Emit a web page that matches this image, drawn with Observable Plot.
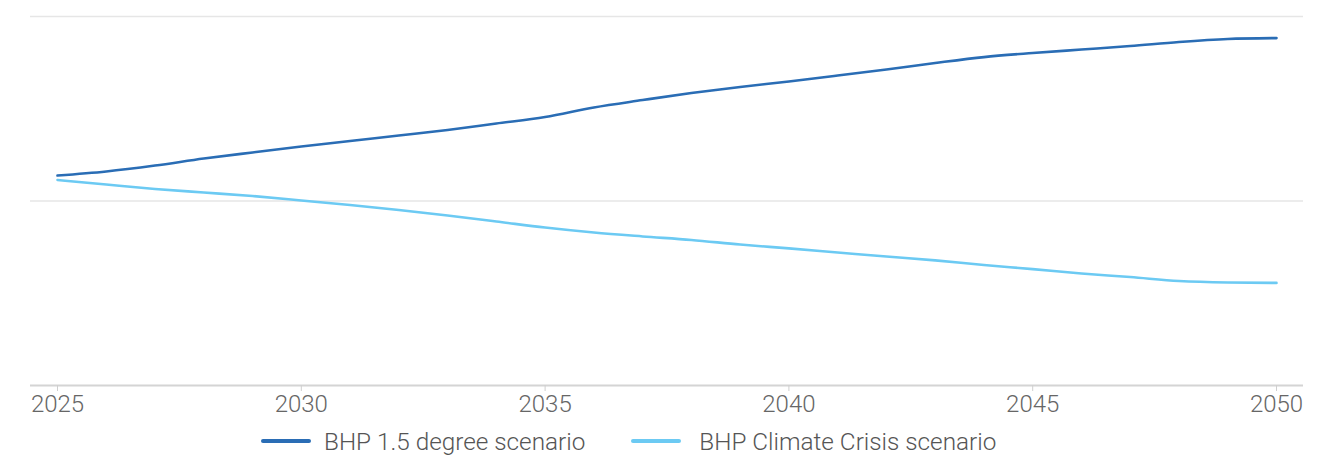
<!DOCTYPE html>
<html>
<head>
<meta charset="utf-8">
<script src="https://cdn.jsdelivr.net/npm/d3@7"></script>
<script src="https://cdn.jsdelivr.net/npm/@observablehq/plot@0.6"></script>
<style>
  html, body { margin: 0; padding: 0; background: #fff; }
  body { width: 1342px; font-family: Roboto, "Noto Sans", sans-serif; }
  #legend { display: flex; align-items: center; height: 30px; padding-left: 261px; margin-top: 6px;
    font-family: Roboto, sans-serif; font-weight: 300; font-size: 24.3px; color: #555; }
  .item { display: flex; align-items: center; }
  .sw { width: 50px; height: 4px; border-radius: 2px; margin-right: 13px; }
  .item + .item { margin-left: 46px; }
  .item + .item .sw { margin-right: 18px; }
</style>
</head>
<body>
<div id="chart"></div>
<div id="legend"></div>
<script>
const years = [2025,2026,2027,2028,2029,2030,2031,2032,2033,2034,2035,2036,2037,2038,2039,2040,2041,2042,2043,2044,2045,2046,2047,2048,2049,2050];
const seriesNames = ["BHP 1.5 degree scenario", "BHP Climate Crisis scenario"];
const seriesColors = ["#2a6db5", "#6ccaf3"];
const deg15 = [1.138,1.160,1.192,1.230,1.263,1.295,1.325,1.355,1.385,1.420,1.455,1.507,1.547,1.585,1.618,1.648,1.680,1.713,1.748,1.780,1.802,1.821,1.840,1.862,1.878,1.883];
const crisis = [1.114,1.089,1.065,1.046,1.027,1.003,0.978,0.951,0.921,0.889,0.856,0.829,0.808,0.789,0.764,0.743,0.721,0.699,0.678,0.653,0.631,0.607,0.588,0.566,0.558,0.556];
const yGrid = [1, 2];
const xTicks = [2025, 2030, 2035, 2040, 2045, 2050];

const data = [];
years.forEach((yr, i) => {
  data.push({year: yr, value: deg15[i], series: seriesNames[0]});
  data.push({year: yr, value: crisis[i], series: seriesNames[1]});
});

const chart = Plot.plot({
  width: 1342,
  height: 420,
  marginLeft: 30,
  marginRight: 39,
  marginTop: 16,
  marginBottom: 35,
  insetLeft: 27,
  insetRight: 27,
  style: {fontFamily: "Roboto, sans-serif", fontSize: "24px", fontWeight: 300, color: "#666", background: "#fff"},
  x: {domain: [2025, 2050], ticks: xTicks, tickFormat: d => String(d), tickSize: 6, tickPadding: 3, label: null},
  y: {domain: [0, 2], axis: null},
  color: {domain: seriesNames, range: seriesColors},
  marks: [
    Plot.ruleY(yGrid, {stroke: "#e6e6e6", strokeWidth: 1.5}),
    Plot.ruleY([0], {stroke: "#d4d4d4", strokeWidth: 2}),
    Plot.axisX({ticks: xTicks, tickFormat: d => String(d), tickSize: 6, tickPadding: 3, stroke: "#cfcfcf", fill: "#666", label: null}),
    Plot.line(data, {x: "year", y: "value", z: "series", stroke: "series", strokeWidth: 2.6, curve: "monotone-x", strokeLinecap: "round"})
  ]
});
document.getElementById("chart").appendChild(chart);

const legend = document.getElementById("legend");
seriesNames.forEach((n, i) => {
  const it = document.createElement("div");
  it.className = "item";
  const sw = document.createElement("span");
  sw.className = "sw";
  sw.style.background = seriesColors[i];
  const t = document.createElement("span");
  t.textContent = n;
  it.appendChild(sw); it.appendChild(t);
  legend.appendChild(it);
});
</script>
</body>
</html>
